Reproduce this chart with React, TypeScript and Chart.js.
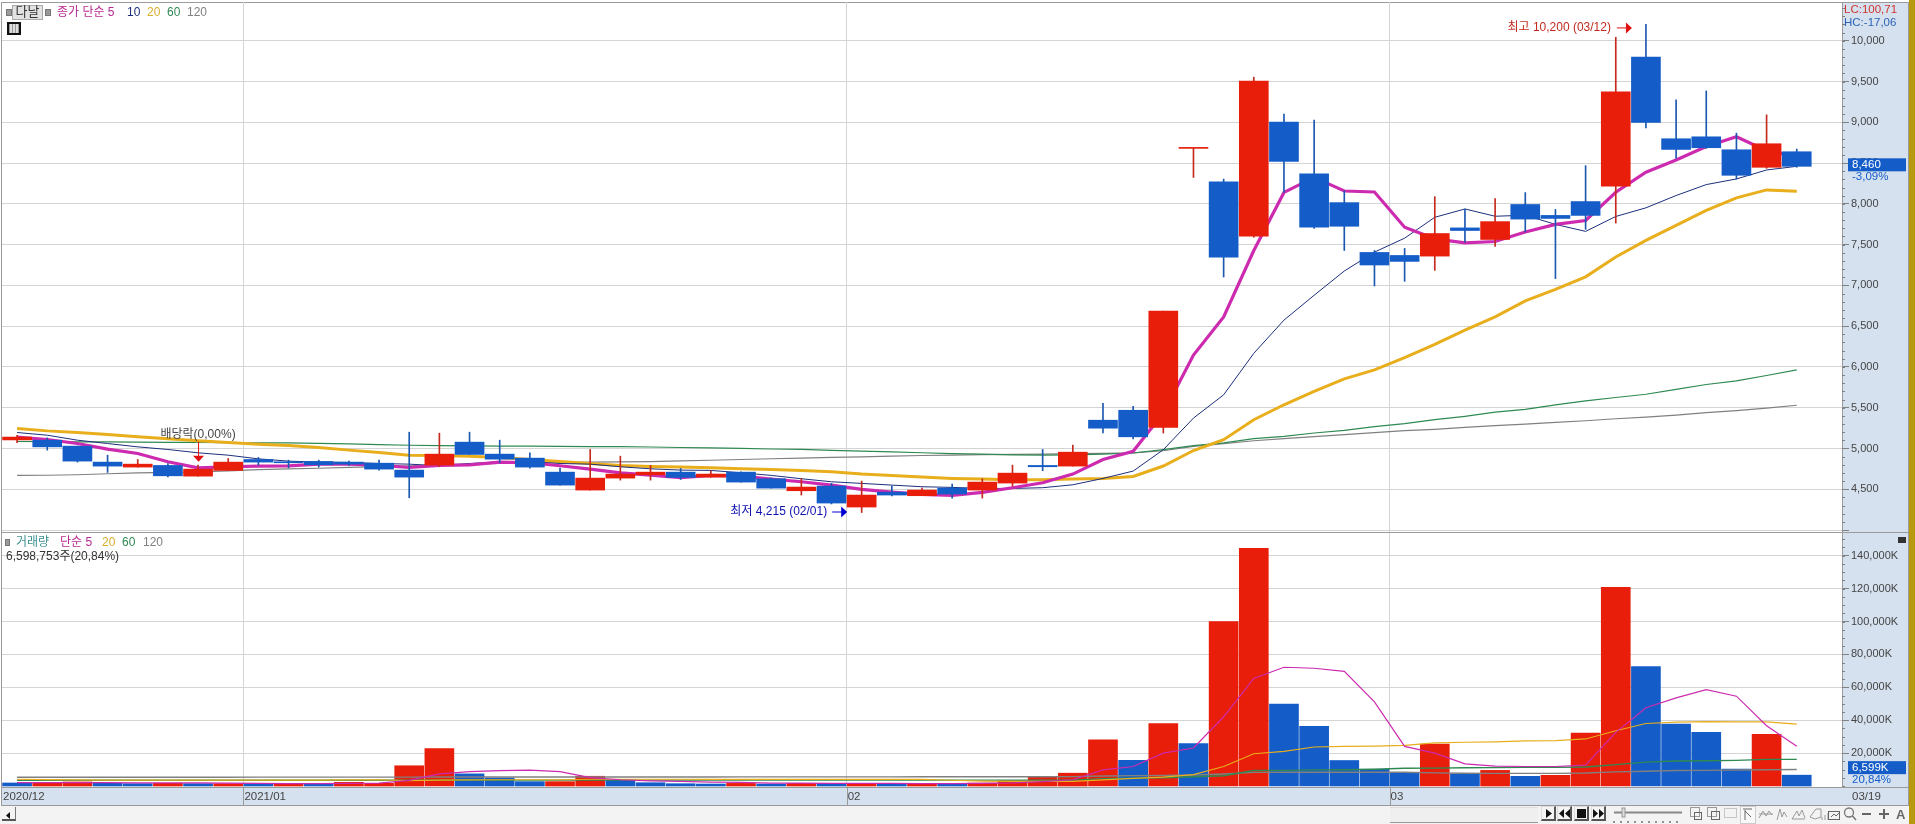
import React, { useEffect, useRef } from "react";
import { Chart, registerables } from "chart.js";

Chart.register(...registerables);

const dates = [
  "2020/12/18","2020/12/21","2020/12/22","2020/12/23","2020/12/24","2020/12/28","2020/12/29","2020/12/30",
  "2021/01/04","2021/01/05","2021/01/06","2021/01/07","2021/01/08","2021/01/11","2021/01/12","2021/01/13","2021/01/14","2021/01/15","2021/01/18","2021/01/19","2021/01/20","2021/01/21","2021/01/22","2021/01/25","2021/01/26","2021/01/27","2021/01/28","2021/01/29",
  "2021/02/01","2021/02/02","2021/02/03","2021/02/04","2021/02/05","2021/02/08","2021/02/09","2021/02/10","2021/02/15","2021/02/16","2021/02/17","2021/02/18","2021/02/19","2021/02/22","2021/02/23","2021/02/24","2021/02/25","2021/02/26",
  "2021/03/02","2021/03/03","2021/03/04","2021/03/05","2021/03/08","2021/03/09","2021/03/10","2021/03/11","2021/03/12","2021/03/15","2021/03/16","2021/03/17","2021/03/18","2021/03/19",
];
const categories = [...dates, ""]; // one empty slot right of the last session
const monthLabels: Record<string, string> = {
  "2020/12/18": "2020/12",
  "2021/01/04": "2021/01",
  "2021/02/01": "02",
  "2021/03/02": "03",
};
const priceTicks = [4000,4500,5000,5500,6000,6500,7000,7500,8000,8500,9000,9500,10000];
const volumeTicks = [20000,40000,60000,80000,100000,120000,140000];

const opens = [5105,5102,5029,4833,4772,4792,4661,4731,4865,4833,4841,4833,4820,4735,4796,5078,4931,4882,4710,4490,4637,4678,4710,4649,4710,4629,4482,4539,4282,4465,4421,4514,4490,4576,4792,4784,5347,5469,5259,8680,8271,7603,9003,8368,8015,7404,7367,7359,7705,7563,7992,7858,8028,8216,9800,8798,8822,8663,8448,8639];
const highs = [5160,5130,5029,4918,4865,4816,4796,4878,4890,4857,4857,4845,4857,5200,5188,5200,5102,4947,4759,4988,4906,4792,4755,4727,4715,4640,4633,4572,4600,4539,4514,4563,4629,4796,4988,5041,5555,5518,6684,8680,8303,9553,9100,9028,8160,7428,7453,8088,7937,8063,8138,7931,8468,10043,10200,9274,9384,8867,9091,8672];
const lows = [5070,4980,4833,4706,4772,4650,4661,4731,4796,4763,4772,4792,4735,4396,4776,4927,4825,4759,4551,4490,4612,4612,4620,4649,4588,4514,4429,4320,4215,4417,4421,4392,4392,4539,4727,4784,5192,5118,5190,8324,7103,7590,8140,7700,7428,6993,7050,7184,7530,7477,7654,7084,7687,7764,8932,8558,8680,8305,8435,8448];
const closes = [5140,5020,4845,4784,4808,4665,4747,4833,4833,4825,4800,4808,4747,4649,4931,4927,4869,4772,4551,4637,4686,4710,4645,4686,4588,4514,4527,4331,4429,4429,4490,4441,4588,4698,4776,4955,5249,5143,6684,8680,7347,9504,8519,7713,7725,7250,7294,7636,7673,7782,7813,7821,7858,9372,8997,8667,8688,8350,8737,8460];

const ma5 = [5140,5110,5061,4992,4939,4837,4763,4776,4784,4788,4808,4808,4796,4767,4792,4800,4833,4825,4788,4747,4702,4674,4641,4670,4661,4625,4592,4551,4498,4465,4437,4425,4461,4519,4580,4686,4865,4965,5434,6146,6614,7428,8140,8324,8157,8145,7713,7571,7522,7538,7654,7748,7796,8142,8387,8537,8704,8822,8651,8580];
const ma10 = [5196,5163,5102,5061,5020,4988,4947,4918,4873,4845,4833,4829,4816,4808,4788,4816,4837,4837,4816,4808,4776,4751,4735,4731,4702,4670,4629,4592,4572,4551,4531,4523,4510,4510,4519,4555,4633,4723,4985,5373,5658,6167,6574,6879,7176,7408,7579,7835,7937,7848,7860,7748,7662,7845,7951,8102,8236,8305,8415,8460];
const ma20 = [5245,5216,5196,5171,5143,5118,5094,5073,5053,5037,5012,4980,4951,4918,4914,4906,4890,4865,4841,4816,4792,4780,4772,4763,4751,4743,4731,4714,4686,4670,4649,4633,4625,4616,4616,4625,4633,4657,4785,4975,5108,5353,5536,5699,5853,5963,6114,6277,6452,6614,6810,6950,7105,7349,7552,7735,7919,8073,8171,8155];
const ma60 = [5086,5084,5082,5080,5078,5076,5074,5072,5070,5068,5062,5056,5048,5040,5036,5032,5030,5028,5026,5024,5022,5018,5012,5008,5002,4994,4988,4978,4968,4958,4948,4938,4930,4922,4918,4922,4932,4945,4986,5035,5068,5120,5149,5190,5222,5267,5304,5353,5395,5445,5480,5535,5585,5625,5665,5725,5785,5830,5895,5965];
const ma120 = [4670,4672,4678,4690,4702,4708,4712,4725,4742,4750,4758,4768,4778,4788,4798,4808,4816,4822,4828,4832,4836,4840,4848,4856,4865,4874,4882,4890,4898,4906,4914,4919,4924,4928,4932,4936,4941,4947,4972,5025,5060,5095,5120,5145,5170,5195,5218,5235,5258,5280,5300,5320,5340,5365,5385,5410,5440,5465,5495,5530];

// volume, in thousands of shares
const volumes = [1845,2255,2460,1640,1435,1640,1435,1435,1435,1435,1435,2255,1640,12300,22755,7380,4920,2665,2665,5945,3500,2000,1400,1200,1600,1200,1600,1600,1600,1400,1600,1200,1800,3200,5600,7800,28000,15600,38000,25800,99900,144500,49800,36300,15500,10200,8200,25500,7500,9500,5900,6500,32200,120800,72600,37600,32600,10300,31400,6599];
const volumeUp = [0,1,1,0,0,1,0,1,0,1,0,1,1,1,1,0,0,0,1,1,0,0,0,0,1,0,1,0,1,0,1,0,1,1,1,1,1,0,1,0,1,1,0,0,0,0,0,1,0,1,0,1,1,1,0,0,0,0,1,0];
const volMa5 = [2000,2050,2100,2000,1900,1950,1850,1700,1550,1500,1450,1600,1700,3400,7400,8800,9400,9600,8700,5100,3800,3100,2800,2400,2200,1800,1700,1600,1600,1600,1500,1500,1550,1900,2700,3800,9800,11860,20000,23100,42100,65400,72200,71600,69700,51100,24100,20000,13500,12100,11860,11860,12700,32600,47600,53600,58600,54600,36600,24200];
const volMa20 = [4100,3900,3700,3600,3600,3600,3600,3600,3600,3600,3600,3700,3800,3300,3600,3700,3800,3800,3800,4100,4100,4100,4100,4000,4000,4000,4000,4000,4000,4000,4000,3500,3000,2800,2800,2800,3700,4600,5400,6900,11860,19600,21000,23700,24100,24300,24700,26200,26600,26800,27400,27600,28600,33600,38000,38800,39200,39000,39000,37600];
const volMa60 = [3500,3500,3500,3500,3500,3500,3500,3500,3500,3500,3500,3500,3500,3550,3550,3550,3550,3550,3550,3550,3550,3550,3550,3550,3550,3600,3600,3600,3600,3600,3600,3600,3600,3600,3600,3600,4500,4800,5000,5600,6200,9400,9500,9800,9900,10200,10800,10900,11100,11200,11300,11400,11600,13000,14500,15200,15400,15600,16200,16200];
const volMa120 = [5300,5300,5320,5320,5340,5340,5360,5360,5380,5380,5400,5400,5420,5420,5440,5440,5460,5460,5480,5480,5500,5500,5520,5520,5540,5540,5560,5560,5580,5580,5600,5600,5620,5640,5660,5700,6100,6300,6400,6700,7300,8300,8400,8400,8400,8400,8400,8000,7800,7700,7700,7700,7900,8600,9000,9400,9500,9700,9900,10000];

const lastTagChange = "-3,09%";
const lastVolShare = "20,84%";
const volumeCaption = "6,598,753주(20,84%)";

const RED = "#E81D0A";
const BLUE = "#145CC8";
const WICK_RED = "#C42A1E";
const WICK_BLUE = "#1C58B0";
const GOLD = "#E8AE1C";
const MAGENTA = "#CC2BB0";
const NAVY = "#1C2F7C";
const GREEN = "#2F8A52";
const GRAY = "#808080";
const GRID = "#D4D4D4";
const STRIP = "#D6E1EF";
const LINE = "#9A9A9A";
const FONT = '"Liberation Sans", "Noto Sans CJK KR", sans-serif';
const PLOT_LEFT = 2;
const PLOT_RIGHT = 1842;
const AXIS_W = 1915 - PLOT_RIGHT;

const fmt = (v: number) => Math.round(v).toLocaleString("en-US");
const isUp = closes.map((c, i) => c >= opens[i]);

const lineDs = (label: string, data: number[], color: string, width: number, order: number) => ({
  type: "line" as const,
  label,
  data,
  borderColor: color,
  backgroundColor: color,
  borderWidth: width,
  pointRadius: 0,
  tension: 0,
  order,
});

const monthGridColor = (ctx: any) => (monthLabels[categories[ctx.index]] && ctx.index > 0 ? GRID : "rgba(0,0,0,0)");

const noPadding = (s: any) => {
  s.paddingTop = 0;
  s.paddingBottom = 0;
  s.paddingLeft = 0;
  s.paddingRight = 0;
};

const xOptions = (showLabels: boolean) => ({
  type: "category" as const,
  offset: true,
  stacked: true,
  grid: { offset: true, color: monthGridColor, drawTicks: false, lineWidth: 1 },
  border: { display: false },
  afterFit: (s: any) => {
    s.height = showLabels ? 18 : 0;
    noPadding(s);
  },
  ticks: {
    display: showLabels,
    autoSkip: false,
    maxRotation: 0,
    minRotation: 0,
    align: "start" as const,
    labelOffset: -14,
    padding: 3,
    color: "#444",
    font: { family: FONT, size: 11.5 },
    callback: (_v: any, i: number) => monthLabels[categories[i]] ?? "",
  },
});

const yOptions = (min: number, max: number, tickValues: number[], label: (v: number) => string) => ({
  position: "right" as const,
  min,
  max,
  bounds: "data" as const,
  afterBuildTicks: (s: any) => {
    s.ticks = tickValues.map((value) => ({ value }));
  },
  afterFit: (s: any) => {
    s.width = AXIS_W;
    noPadding(s);
  },
  border: { color: LINE, width: 1 },
  grid: {
    color: GRID,
    tickColor: "#808080",
    tickLength: 7,
    lineWidth: 1,
  },
  ticks: {
    crossAlign: "near" as const,
    padding: 2,
    autoSkip: false,
    color: "#444",
    font: { family: FONT, size: 11 },
    callback: (v: any) => label(Number(v)),
  },
});

function minorTicks(chart: any, scale: any, step: number, ctx: any) {
  ctx.save();
  ctx.strokeStyle = "#808080";
  ctx.lineWidth = 1;
  ctx.beginPath();
  for (let v = Math.ceil(scale.min / step) * step; v <= scale.max; v += step) {
    const y = Math.round(scale.getPixelForValue(v)) + 0.5;
    ctx.moveTo(chart.chartArea.right, y);
    ctx.lineTo(chart.chartArea.right + 3, y);
  }
  ctx.stroke();
  ctx.restore();
}

function tag(ctx: any, y: number, text: string, sub: string) {
  ctx.save();
  ctx.fillStyle = BLUE;
  ctx.fillRect(1848, y - 6.5, 58, 13);
  ctx.fillStyle = "#fff";
  ctx.font = `11.5px ${FONT}`;
  ctx.textBaseline = "middle";
  ctx.textAlign = "left";
  ctx.fillText(text, 1852, y + 0.5);
  ctx.fillStyle = BLUE;
  ctx.fillText(sub, 1852, y + 12);
  ctx.restore();
}

function arrow(ctx: any, tipX: number, y: number, len: number, color: string) {
  ctx.save();
  ctx.strokeStyle = color;
  ctx.fillStyle = color;
  ctx.lineWidth = 1;
  ctx.beginPath();
  ctx.moveTo(tipX - len, y + 0.5);
  ctx.lineTo(tipX - 4, y + 0.5);
  ctx.stroke();
  ctx.beginPath();
  ctx.moveTo(tipX, y + 0.5);
  ctx.lineTo(tipX - 6, y - 5);
  ctx.lineTo(tipX - 6, y + 6);
  ctx.closePath();
  ctx.fill();
  ctx.restore();
}

const pricePlugin = {
  id: "priceMarks",
  afterDraw(chart: any) {
    const { ctx } = chart;
    const x = chart.scales.x;
    const y = chart.scales.y;
    minorTicks(chart, y, 100, ctx);
    ctx.save();
    ctx.font = `12px ${FONT}`;
    ctx.textBaseline = "middle";

    // highest session
    const top = Math.max(...highs);
    const topI = highs.indexOf(top);
    const tx = x.getPixelForValue(topI) - 14;
    const ty = y.getPixelForValue(top) + 3;
    ctx.fillStyle = "#C22A20";
    ctx.textAlign = "right";
    ctx.fillText(`최고 ${fmt(top)} (${dates[topI].slice(5)})`, tx - 21, ty);
    arrow(ctx, tx, ty, 15, "#E01010");

    // lowest session
    const low = Math.min(...lows);
    const lowI = lows.indexOf(low);
    const lx = x.getPixelForValue(lowI) - 14.5;
    const ly = y.getPixelForValue(low) - 1;
    ctx.fillStyle = "#1010B0";
    ctx.fillText(`최저 ${fmt(low)} (${dates[lowI].slice(5)})`, lx - 20, ly);
    arrow(ctx, lx, ly, 15, "#0000D0");

    // ex-dividend marker
    const dI = dates.indexOf("2020/12/29");
    const dx = x.getPixelForValue(dI);
    const dy = y.getPixelForValue(highs[dI]) - 3.5;
    ctx.fillStyle = "#444";
    ctx.textAlign = "center";
    ctx.fillText("배당락(0,00%)", dx, dy - 27);
    ctx.strokeStyle = "#E01010";
    ctx.beginPath();
    ctx.moveTo(dx + 0.5, dy - 20);
    ctx.lineTo(dx + 0.5, dy - 4);
    ctx.stroke();
    ctx.fillStyle = "#E01010";
    ctx.beginPath();
    ctx.moveTo(dx - 5, dy - 6);
    ctx.lineTo(dx + 6, dy - 6);
    ctx.lineTo(dx + 0.5, dy);
    ctx.closePath();
    ctx.fill();
    ctx.restore();

    const last = closes[closes.length - 1];
    tag(ctx, y.getPixelForValue(last) - 1.5, fmt(last), lastTagChange);
  },
};

const volumePlugin = {
  id: "volumeMarks",
  afterDraw(chart: any) {
    const { ctx } = chart;
    const x = chart.scales.x;
    const y = chart.scales.y;
    minorTicks(chart, y, 5000, ctx);
    // month separators in the date strip
    ctx.save();
    ctx.strokeStyle = LINE;
    ctx.lineWidth = 1;
    ctx.beginPath();
    categories.forEach((c, i) => {
      if (i > 0 && monthLabels[c]) {
        const px = Math.round(x.getPixelForValue(i) - (x.getPixelForValue(1) - x.getPixelForValue(0)) / 2) + 0.5;
        ctx.moveTo(px, chart.chartArea.bottom + 1);
        ctx.lineTo(px, chart.chartArea.bottom + 18);
      }
    });
    ctx.stroke();
    ctx.font = `11.5px ${FONT}`;
    ctx.textBaseline = "middle";
    ctx.textAlign = "left";
    ctx.fillStyle = "#444";
    ctx.fillText(dates[dates.length - 1].slice(5), 1852, chart.chartArea.bottom + 10);
    ctx.restore();
    const lastV = volumes[volumes.length - 1];
    tag(ctx, y.getPixelForValue(lastV) - 7.5, `${fmt(lastV)}K`, lastVolShare);
  },
};

const T = ({ x, y, color, size = 12, children }: any) => (
  <span
    style={{
      position: "absolute",
      left: x,
      top: y - 8,
      height: 16,
      lineHeight: "16px",
      fontFamily: FONT,
      fontSize: size,
      color,
      whiteSpace: "nowrap",
    }}
  >
    {children}
  </span>
);

const Box = ({ x, y, w, h, bg, extra }: any) => (
  <div style={{ position: "absolute", left: x, top: y, width: w, height: h, background: bg, ...extra }} />
);

const Btn = ({ x, children }: any) => (
  <div
    style={{
      position: "absolute",
      left: x,
      top: 806,
      width: 15,
      height: 15,
      boxSizing: "border-box",
      background: "#F4F4F4",
      borderRight: "2px solid #555",
      borderBottom: "2px solid #555",
      borderTop: "1px solid #ddd",
      borderLeft: "1px solid #ddd",
    }}
  >
    <svg width="13" height="13" style={{ display: "block" }}>
      {children}
    </svg>
  </div>
);

export default function App() {
  const priceRef = useRef<HTMLCanvasElement>(null);
  const volRef = useRef<HTMLCanvasElement>(null);

  useEffect(() => {
    const bodyColors = isUp.map((u) => (u ? RED : BLUE));
    const wickColors = isUp.map((u) => (u ? WICK_RED : WICK_BLUE));
    const price = new Chart(priceRef.current as HTMLCanvasElement, {
      type: "bar",
      data: {
        labels: categories,
        datasets: [
          {
            label: "candle",
            data: opens.map((o, i) => [o, closes[i]]),
            backgroundColor: bodyColors,
            barThickness: 29,
            minBarLength: 1,
            order: 0,
          } as any,
          {
            label: "wick",
            data: lows.map((l, i) => [l, highs[i]]),
            backgroundColor: wickColors,
            barThickness: 1,
            order: 1,
          } as any,
          lineDs("5", ma5, MAGENTA, 3.2, 2),
          lineDs("10", ma10, NAVY, 1, 3),
          lineDs("20", ma20, GOLD, 3, 4),
          lineDs("60", ma60, GREEN, 1.2, 5),
          lineDs("120", ma120, GRAY, 1.2, 6),
        ],
      },
      options: {
        responsive: false,
        animation: false,
        devicePixelRatio: 1,
        events: [],
        layout: { padding: { left: PLOT_LEFT, top: 2, right: 0, bottom: 1 } },
        plugins: { legend: { display: false }, tooltip: { enabled: false } },
        scales: {
          x: xOptions(false),
          y: yOptions(3976, 10475, priceTicks, (v) => (v >= 4500 ? fmt(v) : "")),
        },
      } as any,
      plugins: [pricePlugin],
    });

    const volume = new Chart(volRef.current as HTMLCanvasElement, {
      type: "bar",
      data: {
        labels: categories,
        datasets: [
          lineDs("5", volMa5, MAGENTA, 1.2, 0),
          lineDs("20", volMa20, GOLD, 1.2, 1),
          lineDs("60", volMa60, GREEN, 1.4, 2),
          lineDs("120", volMa120, GRAY, 1.4, 3),
          {
            label: "volume",
            data: volumes,
            backgroundColor: volumeUp.map((u) => (u ? RED : BLUE)),
            barThickness: 29,
            order: 4,
          } as any,
        ],
      },
      options: {
        responsive: false,
        animation: false,
        devicePixelRatio: 1,
        events: [],
        layout: { padding: { left: PLOT_LEFT, top: 1, right: 0, bottom: 19 } },
        plugins: { legend: { display: false }, tooltip: { enabled: false } },
        scales: {
          x: xOptions(true),
          y: yOptions(-600, 153800, volumeTicks, (v) => `${fmt(v)}K`),
        },
      } as any,
      plugins: [volumePlugin],
    });
    return () => {
      price.destroy();
      volume.destroy();
    };
  }, []);

  return (
    <div style={{ position: "fixed", left: 0, top: 0, width: 1915, height: 824, background: "#fff", overflow: "hidden" }}>
      {/* frames and strips */}
      <Box x={1843} y={2} w={65} h={803} bg={STRIP} />
      <Box x={2} y={788} w={1841} h={17} bg={STRIP} />
      <Box x={0} y={806} w={1909} h={18} bg="#F3F3F3" />
      <Box x={1909} y={0} w={6} h={824} bg="#B89A10" />
      <Box x={1} y={2} w={1908} h={1} bg={LINE} />
      <Box x={1} y={2} w={1} h={803} bg={LINE} />
      <Box x={1908} y={2} w={1} h={804} bg={LINE} />
      <Box x={1} y={532} w={1908} h={1} bg={LINE} />
      <Box x={1} y={787} w={1908} h={1} bg={LINE} />
      <Box x={1} y={805} w={1908} h={1} bg={LINE} />

      <canvas ref={priceRef} width={1915} height={533} style={{ position: "absolute", left: 0, top: 0 }} />
      <canvas ref={volRef} width={1915} height={292} style={{ position: "absolute", left: 0, top: 532 }} />

      {/* price header */}
      <Box x={6} y={9} w={4} h={5} bg="#999" extra={{ border: "1px solid #777" }} />
      <Box x={12} y={5} w={29} h={13} bg="#E2E2E2" extra={{ border: "1px solid #AAA" }} />
      <T x={15.5} y={12} color="#333" size={13}>다날</T>
      <Box x={45} y={9} w={4} h={5} bg="#999" extra={{ border: "1px solid #777" }} />
      <T x={57} y={11.5} color="#B8288F">종가 단순 5</T>
      <T x={127} y={11.5} color={NAVY}>10</T>
      <T x={147} y={11.5} color="#D9AE2C">20</T>
      <T x={167} y={11.5} color={GREEN}>60</T>
      <T x={187} y={11.5} color={GRAY}>120</T>
      <div style={{ position: "absolute", left: 7, top: 22, width: 10, height: 9, border: "2px solid #111", background: "repeating-linear-gradient(90deg,#999 0 1px,#ddd 1px 3px)" }} />

      {/* volume header */}
      <Box x={5} y={539} w={3} h={5} bg="#999" extra={{ border: "1px solid #777" }} />
      <T x={16} y={542} color="#3C8F90">거래량</T>
      <T x={60} y={542} color="#B8288F">단순 5</T>
      <T x={102} y={542} color="#D9AE2C">20</T>
      <T x={122} y={542} color={GREEN}>60</T>
      <T x={143} y={542} color={GRAY}>120</T>
      <T x={6} y={555.5} color="#333">{volumeCaption}</T>

      {/* right strip captions */}
      <T x={1844} y={9} color="#D0342C" size={11.5}>LC:100,71</T>
      <T x={1844} y={22} color="#2A64B8" size={11.5}>HC:-17,06</T>
      <div style={{ position: "absolute", left: 1898, top: 537, width: 8, height: 6, background: "#333" }} />

      {/* toolbar */}
      <div style={{ position: "absolute", left: 2, top: 807, width: 14, height: 14, boxSizing: "border-box", background: "#F4F4F4", borderRight: "1px solid #777", borderBottom: "2px solid #555" }}>
        <svg width="12" height="12"><path d="M8 3v7L4 6.5z" fill="#111" /></svg>
      </div>
      <Box x={1390} y={807} w={148} h={14} bg="#EFEFEF" extra={{ borderBottom: "1px solid #999", borderTop: "1px solid #ddd" }} />
      <Btn x={1541}><path d="M4 2l6 4.5-6 4.5z" fill="#111" /></Btn>
      <Btn x={1557}><path d="M6 2v9L1 6.5zM12 2v9L7 6.5z" fill="#111" /></Btn>
      <Btn x={1574}><rect x="2" y="2" width="9" height="9" fill="#111" /></Btn>
      <Btn x={1591}><path d="M1 2v9l5-4.5zM7 2v9l5-4.5z" fill="#111" /></Btn>
      <svg width="369" height="19" style={{ position: "absolute", left: 1540, top: 805 }}>
        <g fill="none" stroke="#999">
          <path d="M74 7.5h68" stroke="#888" strokeWidth="2" />
          <rect x="82" y="3" width="3" height="9" fill="#ddd" />
          <path d="M74 16v2M81 16v2M88 16v2M95 16v2M102 16v2M109 16v2M116 16v2M123 16v2M130 16v2M137 16v2" stroke="#333" />
          <rect x="150.5" y="2.5" width="9" height="9" />
          <rect x="154.5" y="7.5" width="7" height="7" stroke="#666" />
          <rect x="167.5" y="2.5" width="9" height="9" />
          <rect x="171.5" y="6.5" width="8" height="8" stroke="#666" />
          <rect x="184.5" y="3.5" width="12" height="9" strokeDasharray="1 1" />
          <rect x="200.5" y="1.5" width="15" height="17" stroke="#ccc" fill="#F8F8F8" />
          <path d="M203 4h9M205 15l0-10M205 6l6 6" stroke="#666" />
          <path d="M219 13l4-7 3 5 3-5 3 4M219 9h14" />
          <path d="M237 15l3-11 2 8 2-5 3 5" />
          <path d="M252 14l5-8 2 5 3-6 3 8M252 14h13" />
          <path d="M270 12l6-8 5 0 0 8-6 2zM282 15v-3M285 15v-5M288 15v-7" />
          <rect x="288.5" y="6.5" width="11" height="8" stroke="#666" />
          <path d="M291 12l3-3 2 2 3-3" stroke="#666" />
          <circle cx="309" cy="7.5" r="4.5" stroke="#777" strokeWidth="1.3" />
          <path d="M312.5 11l3.5 4" stroke="#777" strokeWidth="1.5" />
          <path d="M322 9h9" stroke="#666" strokeWidth="2" />
          <path d="M339 9h10M344 4v10" stroke="#666" strokeWidth="2" />
        </g>
        <text x="356" y="14" fontFamily="Liberation Sans" fontWeight="700" fontSize="13" fill="#666">A</text>
      </svg>
    </div>
  );
}
